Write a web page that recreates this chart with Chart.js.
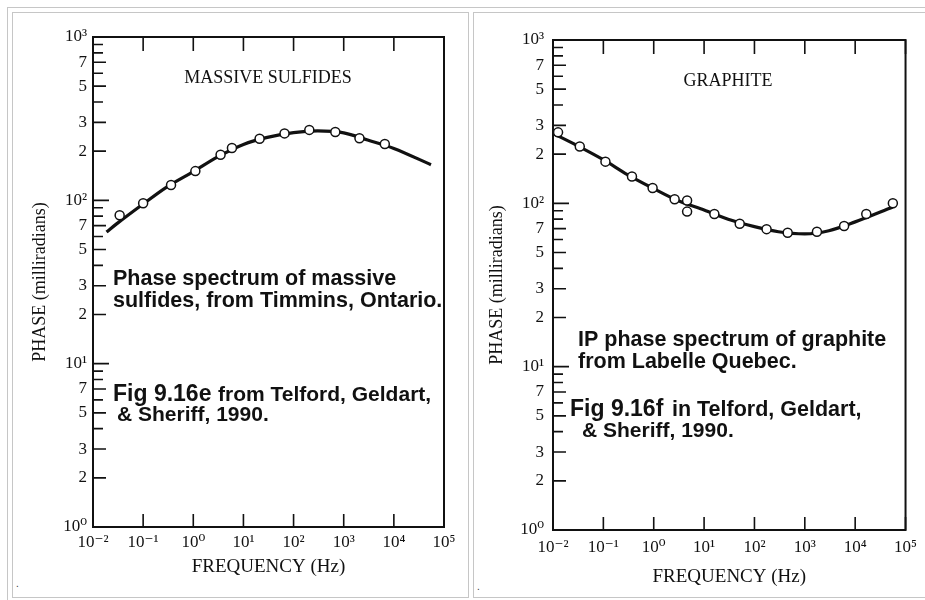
<!DOCTYPE html>
<html>
<head>
<meta charset="utf-8">
<title>IP phase spectra</title>
<script src="https://cdn.jsdelivr.net/npm/chart.js@4.4.1/dist/chart.umd.min.js"></script>
<style>
  body { margin: 0; background: #fff; width: 925px; height: 600px; overflow: hidden; position: relative; }
  .tbl { position: absolute; left: 7px; top: 7px; width: 940px; height: 620px; border-top: 1px solid #c6c6c6; border-left: 1px solid #c6c6c6; }
  .cell { position: absolute; border: 1px solid #c6c6c6; }
  canvas { position: absolute; }
  .dot { position: absolute; font: 10px "Liberation Sans"; color: #333; }
</style>
</head>
<body>
<div class="tbl"></div>
<div class="cell" style="left:12px; top:12px; width:455px; height:584px;"></div>
<div class="cell" style="left:473px; top:12px; width:460px; height:584px;"></div>
<span class="dot" style="left:16px; top:578px;">.</span>
<span class="dot" style="left:477px; top:581px;">.</span>
<canvas id="sulfides" width="454" height="580" style="left:13px; top:13px;"></canvas>
<canvas id="graphite" width="450" height="580" style="left:474px; top:13px;"></canvas>
<script>
// axis ticks
const xTickValues = [0.01, 0.1, 1, 10, 100, 1000, 10000, 100000];
const xTickLabels = ['10⁻²', '10⁻¹', '10⁰', '10¹', '10²', '10³', '10⁴', '10⁵'];
const yTickValues = [1, 2, 3, 4, 5, 6, 7, 8, 9, 10, 20, 30, 40, 50, 60, 70, 80, 90,
  100, 200, 300, 400, 500, 600, 700, 800, 900, 1000];
const yTickLabels = ['10⁰', '2', '3', '', '5', '', '7', '', '', '10¹', '2', '3', '', '5', '', '7', '', '',
  '10²', '2', '3', '', '5', '', '7', '', '', '10³'];

// massive sulfides, Timmins (measured points + fitted curve)
const sulfFreq = [0.034, 0.1, 0.36, 1.1, 3.5, 5.9, 21, 66, 206, 680, 2060, 6600];
const sulfPhase = [81, 96, 124, 151, 190, 209, 238, 257, 270, 262, 240, 221];
const sulfCurveFreq = [0.0186, 0.03, 0.1, 0.3, 1, 3, 10, 30, 100, 300, 1000, 3000, 10000, 55000];
const sulfCurvePhase = [64, 72, 95, 121, 150, 184, 220, 243, 260, 266, 259, 234, 208, 165];

// graphite, Labelle Quebec
const graphFreq = [0.0126, 0.034, 0.11, 0.37, 0.95, 2.6, 4.6, 4.6, 16, 51, 174, 457, 1740, 6030, 16600, 56000];
const graphPhase = [272, 223, 180, 146, 124, 106, 104, 89, 86, 75, 69.5, 66, 67, 72.6, 86, 100];
const graphCurveFreq = [0.01, 0.03, 0.1, 0.3, 1, 3, 10, 30, 100, 300, 1000, 3000, 10000, 56000];
const graphCurvePhase = [268, 226, 185, 150, 123, 104, 91, 80, 72, 67, 65, 68, 77, 95];

Chart.defaults.font.family = '"Liberation Serif", "DejaVu Serif", serif';
Chart.defaults.color = '#111';

const ink = '#111';

// frame, inward ticks, panel title and the pasted notes
const framePlugin = {
  id: 'frame',
  afterDatasetsDraw(chart, args, opts) {
    const { ctx, chartArea: a, scales: { x, y } } = chart;
    ctx.save();
    ctx.strokeStyle = ink;
    ctx.lineWidth = 2;
    ctx.strokeRect(a.left, a.top, a.right - a.left, a.bottom - a.top);
    ctx.lineWidth = 1.6;
    ctx.beginPath();
    yTickValues.forEach((v, i) => {
      const py = y.getPixelForValue(v);
      const lab = yTickLabels[i];
      const len = lab.startsWith('10') ? 16 : (lab ? 13 : 10);
      ctx.moveTo(a.left, py);
      ctx.lineTo(a.left + len, py);
    });
    xTickValues.forEach(v => {
      const px = x.getPixelForValue(v);
      ctx.moveTo(px, a.bottom);
      ctx.lineTo(px, a.bottom - 13);
      ctx.moveTo(px, a.top);
      ctx.lineTo(px, a.top + 14);
    });
    ctx.stroke();

    ctx.fillStyle = ink;
    ctx.font = '18px "Liberation Serif"';
    ctx.textAlign = 'center';
    ctx.fillText(opts.title, opts.titleX, opts.titleY);

    ctx.textAlign = 'left';
    opts.notes.forEach(n => {
      ctx.font = 'bold ' + n.size + 'px "Liberation Sans", Arial, sans-serif';
      ctx.fillText(n.text, n.x, n.y);
    });
    ctx.restore();
  }
};

function makeChart(id, p) {
  const ctx = document.getElementById(id).getContext('2d');
  return new Chart(ctx, {
    type: 'scatter',
    data: {
      datasets: [
        {
          label: 'measured',
          data: p.freq.map((f, i) => ({ x: f, y: p.phase[i] })),
          pointRadius: 4.5,
          pointBackgroundColor: '#fff',
          pointBorderColor: ink,
          pointBorderWidth: 1.5
        },
        {
          label: 'curve',
          data: p.curveFreq.map((f, i) => ({ x: f, y: p.curvePhase[i] })),
          showLine: true,
          borderColor: ink,
          borderWidth: 3.2,
          cubicInterpolationMode: 'monotone',
          pointRadius: 0
        }
      ]
    },
    options: {
      responsive: false,
      animation: false,
      layout: { autoPadding: false, padding: p.padding },
      scales: {
        x: {
          type: 'logarithmic',
          min: 0.01,
          max: 100000,
          afterBuildTicks: s => { s.ticks = xTickValues.map(v => ({ value: v })); },
          afterFit: s => { s.height = p.xHeight; },
          grid: { display: false, drawTicks: false },
          border: { display: false },
          ticks: {
            autoSkip: false,
            maxRotation: 0,
            padding: p.xPad,
            font: { size: 17 },
            callback: (v, i) => xTickLabels[i]
          },
          title: { display: true, text: 'FREQUENCY (Hz)', font: { size: 19 }, padding: { top: 0, bottom: 0 } }
        },
        y: {
          type: 'logarithmic',
          min: 1,
          max: 1000,
          afterBuildTicks: s => { s.ticks = yTickValues.map(v => ({ value: v })); },
          afterFit: s => { s.width = p.yWidth; },
          grid: { display: false, drawTicks: false },
          border: { display: false },
          ticks: {
            autoSkip: false,
            padding: p.yPad,
            font: { size: 17 },
            callback: (v, i) => yTickLabels[i]
          },
          title: { display: true, text: 'PHASE (milliradians)', font: { size: 18 }, padding: { top: p.yTitlePad, bottom: 0 } }
        }
      },
      plugins: {
        legend: { display: false },
        tooltip: { enabled: false },
        frame: p.frame
      }
    },
    plugins: [framePlugin]
  });
}

makeChart('sulfides', {
  freq: sulfFreq, phase: sulfPhase,
  curveFreq: sulfCurveFreq, curvePhase: sulfCurvePhase,
  padding: { left: 0, top: 24, right: 23, bottom: 15 },
  xHeight: 51, yWidth: 80, xPad: 5, yPad: 6, yTitlePad: 16,
  frame: {
    title: 'MASSIVE SULFIDES', titleX: 255, titleY: 70,
    notes: [
      { text: 'Phase spectrum of massive', x: 100, y: 272, size: 21.5 },
      { text: 'sulfides, from Timmins, Ontario.', x: 100, y: 294, size: 21.5 },
      { text: 'Fig 9.16e', x: 100, y: 388, size: 23 },
      { text: 'from Telford, Geldart,', x: 205, y: 388, size: 21 },
      { text: '& Sheriff, 1990.', x: 104, y: 408, size: 21 }
    ]
  }
});

makeChart('graphite', {
  freq: graphFreq, phase: graphPhase,
  curveFreq: graphCurveFreq, curvePhase: graphCurvePhase,
  padding: { left: 0, top: 27, right: 13, bottom: 5 },
  xHeight: 58, yWidth: 79, xPad: 7, yPad: 9, yTitlePad: 12,
  frame: {
    title: 'GRAPHITE', titleX: 254, titleY: 73,
    notes: [
      { text: 'IP phase spectrum of graphite', x: 104, y: 333, size: 21.5 },
      { text: 'from Labelle Quebec.', x: 104, y: 355, size: 21.5 },
      { text: 'Fig 9.16f', x: 96, y: 403, size: 23 },
      { text: 'in Telford, Geldart,', x: 198, y: 403, size: 21.5 },
      { text: '& Sheriff, 1990.', x: 108, y: 424, size: 21 }
    ]
  }
});
</script>
</body>
</html>
